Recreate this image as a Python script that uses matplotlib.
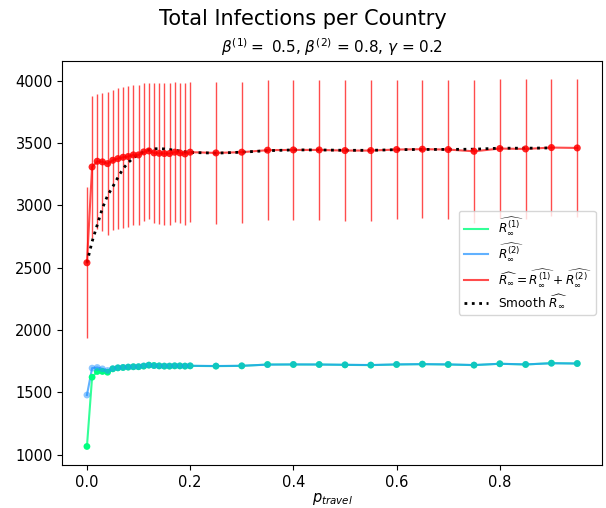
import matplotlib
matplotlib.use("Agg")
import matplotlib.pyplot as plt
import numpy as np

# travel probability grid
p_travel = [0.0, 0.01, 0.02, 0.03, 0.04, 0.05, 0.06, 0.07, 0.08, 0.09, 0.10,
            0.11, 0.12, 0.13, 0.14, 0.15, 0.16, 0.17, 0.18, 0.19, 0.20,
            0.25, 0.30, 0.35, 0.40, 0.45, 0.50, 0.55, 0.60, 0.65, 0.70,
            0.75, 0.80, 0.85, 0.90, 0.95]

# mean total infections, country 1 / country 2 / both
r1 = [1065, 1621, 1667, 1667, 1661, 1688, 1696, 1699, 1702, 1705, 1705,
      1710, 1718, 1715, 1712, 1710, 1710, 1712, 1712, 1710, 1712,
      1710, 1712, 1723, 1723, 1723, 1720, 1718, 1723, 1726, 1723,
      1718, 1729, 1723, 1734, 1731]
r2 = [1478, 1694, 1699, 1688, 1675, 1690, 1697, 1700, 1703, 1705, 1706,
      1712, 1718, 1714, 1712, 1711, 1711, 1713, 1712, 1711, 1713,
      1711, 1713, 1722, 1724, 1723, 1721, 1719, 1724, 1726, 1724,
      1719, 1729, 1724, 1733, 1731]
r_total = [2540, 3309, 3355, 3350, 3336, 3363, 3376, 3387, 3393, 3406, 3406,
           3430, 3438, 3422, 3419, 3417, 3417, 3428, 3422, 3414, 3428,
           3422, 3428, 3444, 3446, 3446, 3441, 3441, 3449, 3452, 3449,
           3435, 3457, 3454, 3465, 3462]
r_total_std = [605, 570, 543, 553, 575, 562, 565, 565, 567, 559, 564,
               551, 549, 565, 568, 570, 570, 560, 565, 573, 560,
               570, 567, 564, 562, 562, 567, 567, 559, 556, 559,
               575, 556, 559, 548, 551]

# smoothed total (up to p = 0.9)
r_smooth = [2540, 2710, 2844, 2978, 3080, 3150, 3225, 3295, 3345, 3382, 3410,
            3432, 3447, 3455, 3456, 3454, 3449, 3444, 3437, 3431, 3426,
            3420, 3428, 3440, 3446, 3446, 3443, 3443, 3448, 3450, 3450,
            3452, 3460, 3460, 3462]

beta1, beta2, gamma = 0.5, 0.8, 0.2

fig = plt.figure(figsize=(6.06, 5.08), dpi=100)
ax = fig.add_axes([0.103, 0.085, 0.890, 0.795])

ax.errorbar(p_travel, r_total, yerr=r_total_std, fmt='none',
            ecolor='red', elinewidth=1, alpha=0.7)
ax.plot(p_travel, r1, color='springgreen', alpha=0.8, lw=1.5,
        label=r'$\widehat{R_\infty^{(1)}}$')
ax.scatter(p_travel, r1, color='springgreen', s=24, zorder=3,
           edgecolors='none')
ax.plot(p_travel, r2, color='dodgerblue', alpha=0.7, lw=1.5,
        label=r'$\widehat{R_\infty^{(2)}}$')
ax.scatter(p_travel, r2, color='#1e90ff', alpha=0.5, s=24, zorder=3,
           edgecolors='none')
ax.plot(p_travel, r_total, color='red', alpha=0.7, lw=1.5,
        label=r'$\widehat{R_\infty} = \widehat{R_\infty^{(1)}} + \widehat{R_\infty^{(2)}}$')
ax.scatter(p_travel, r_total, color='red', alpha=0.85, s=26, zorder=3,
           edgecolors='none')
ax.plot(p_travel[:len(r_smooth)], r_smooth, 'k:', lw=2,
        label=r'Smooth $\widehat{R_\infty}$')

ax.set_xlabel(r'$p_{travel}$', fontsize=10.5, labelpad=1)
ax.set_title(r'$\beta^{(1)} = $ %.1f, $\beta^{(2)}$ = %.1f, $\gamma$ = %.1f' % (beta1, beta2, gamma),
             fontsize=11)
fig.suptitle('Total Infections per Country', fontsize=15, y=0.983)
ax.tick_params(labelsize=10.5)
ax.legend(loc='center right', fontsize=8.7, labelspacing=0.35)

fig.savefig('out.png', dpi=100)
